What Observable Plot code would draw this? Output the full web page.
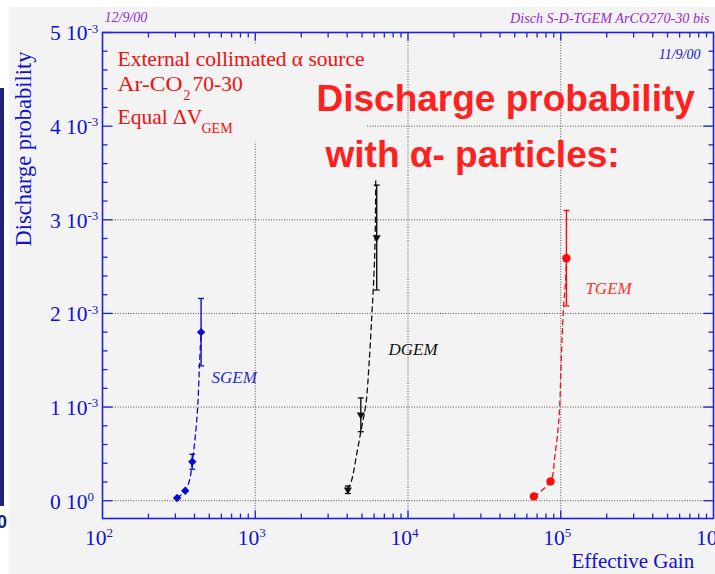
<!DOCTYPE html>
<html><head><meta charset="utf-8">
<script src="https://cdn.jsdelivr.net/npm/d3@7"></script>
<script src="https://cdn.jsdelivr.net/npm/@observablehq/plot@0.6"></script>
<style>
html,body{margin:0;padding:0;background:#fff;width:715px;height:574px;overflow:hidden;}
#bg{position:absolute;left:9px;top:7px;width:706px;height:567px;background:#f3f3f3;}
#bar{position:absolute;left:0;top:88px;width:4px;height:418px;background:#23237f;}
#zero{position:absolute;left:-3px;top:512px;font:bold 18px "Liberation Sans";color:#1b1b70;}
#chart{position:absolute;left:0;top:0;}
</style></head><body>
<div id="bg"></div><div id="bar"></div><div id="zero">0</div>
<div id="chart"></div>
<script>
// ---- data ----
const sgemGain = [308, 348, 387, 442];
const sgemProb = [0.029e-3, 0.107e-3, 0.416e-3, 1.80e-3];
const sgemErr  = [0, 0, 0.08e-3, 0.36e-3];
const dgemGain = [4040, 4910, 6240];
const dgemProb = [0.117e-3, 0.917e-3, 2.81e-3];
const dgemErr  = [0.04e-3, 0.18e-3, 0.56e-3];
const tgemGain = [66700, 85700, 108900];
const tgemProb = [0.046e-3, 0.206e-3, 2.59e-3];
const tgemErr  = [0, 0, 0.51e-3];
// dashed trend curves as traced on the picture
const sgemCurveGain = [308, 348, 372, 387, 405, 420, 431, 442];
const sgemCurveProb = [0.029e-3, 0.107e-3, 0.224e-3, 0.416e-3, 0.686e-3, 1.005e-3, 1.432e-3, 1.80e-3];
const dgemCurveGain = [4040, 4285, 4627, 4982, 5310, 5580, 5790, 5935, 6085, 6150];
const dgemCurveProb = [0.117e-3, 0.224e-3, 0.509e-3, 0.792e-3, 1.042e-3, 1.503e-3, 1.965e-3, 2.285e-3, 2.747e-3, 3.44e-3];
const tgemCurveGain = [66700, 85700, 91400, 95900, 98400, 99900, 101900, 104600, 107300, 108900];
const tgemCurveProb = [0.046e-3, 0.206e-3, 0.472e-3, 0.757e-3, 1.005e-3, 1.325e-3, 1.716e-3, 2.09e-3, 2.32e-3, 2.59e-3];
// series labels
const seriesNames = ["SGEM", "DGEM", "TGEM"];
const labelGain = [517, 7450, 145000];
const labelProb = [1.256e-3, 1.555e-3, 2.206e-3];
// ticks
const yTicks = [0, 1e-3, 2e-3, 3e-3, 4e-3, 5e-3];
const yTickMant = ["0 10", "1 10", "2 10", "3 10", "4 10", "5 10"];
const yTickExp = ["0", "-3", "-3", "-3", "-3", "-3"];
const xTicks = [1e2, 1e3, 1e4, 1e5, 1e6];
const xTickMant = ["10", "10", "10", "10", "10"];
const xTickExp = ["2", "3", "4", "5", "6"];
const xGrid = [1e3, 1e4, 1e5];
const yGrid = [0, 1e-3, 2e-3, 3e-3, 4e-3];

// ---- derived tables ----
const rows = (g, p, e) => g.map((x, i) => ({x, y: p[i], e: e[i]}));
const curve = (g, p) => g.map((x, i) => ({x, y: p[i]}));
const S = rows(sgemGain, sgemProb, sgemErr), D = rows(dgemGain, dgemProb, dgemErr), T = rows(tgemGain, tgemProb, tgemErr);
const labels = seriesNames.map((t, i) => ({t, x: labelGain[i], y: labelProb[i]}));
const yMinor = d3.range(1, 25).filter(i => i % 5 !== 0).map(i => i * 0.2e-3);
const xMinor = [];
[1e2, 1e3, 1e4, 1e5].forEach(d => { for (let k = 2; k <= 9; k++) xMinor.push(k * d); });
const yMin = -0.19e-3, yMax = 5e-3, xMin = 1e2, xMax = 1e6;

const BLUE = "#1212cc", FRAME = "#2020dd", BLK = "#111";
const seg = (dx, dy) => ({draw(ctx) { ctx.moveTo(0, 0); ctx.lineTo(dx, dy); }});
const cap = {draw(ctx) { ctx.moveTo(-3, 0); ctx.lineTo(3, 0); }};
const serif = "Liberation Serif, Times New Roman, serif";
const sans = "Liberation Sans, Arial, sans-serif";

function series(data, cdata, color, symbol, r, rotate) {
  const withErr = data.filter(d => d.e > 0);
  return [
    Plot.line(cdata, {x: "x", y: "y", stroke: color, strokeWidth: 1.3, strokeDasharray: "5,4", curve: "catmull-rom"}),
    Plot.ruleX(withErr, {x: "x", y1: d => d.y - d.e, y2: d => d.y + d.e, stroke: color, strokeWidth: 1.4}),
    Plot.dot(withErr, {x: "x", y: d => d.y - d.e, symbol: cap, r: 1, stroke: color, fill: "none", strokeWidth: 1.3}),
    Plot.dot(withErr, {x: "x", y: d => d.y + d.e, symbol: cap, r: 1, stroke: color, fill: "none", strokeWidth: 1.3}),
    Plot.dot(data, {x: "x", y: "y", symbol, r, fill: color, stroke: "none", rotate})
  ];
}
const note = (t, o) => Plot.text([t], {frameAnchor: "top-left", textAnchor: "start", lineAnchor: "bottom", fontFamily: serif, fill: "#f01010", ...o});

const plot = Plot.plot({
  width: 715, height: 574,
  marginLeft: 102, marginRight: 2, marginTop: 32, marginBottom: 56,
  style: {background: "transparent", overflow: "visible"},
  x: {type: "log", domain: [xMin, xMax], axis: null},
  y: {type: "linear", domain: [yMin, yMax], axis: null},
  marks: [
    Plot.ruleX(xGrid, {stroke: "#555", strokeDasharray: "1,1.6", strokeWidth: 1}),
    Plot.ruleY(yGrid, {stroke: "#555", strokeDasharray: "1,1.6", strokeWidth: 1}),
    Plot.rect([{x1: xMin, x2: 5350, y1: 3.828e-3, y2: 4.863e-3}], {x1: "x1", x2: "x2", y1: "y1", y2: "y2", fill: "#f3f3f3"}),
    Plot.frame({stroke: FRAME, strokeWidth: 1.6}),
    // inward ticks
    Plot.dot(yMinor, {x: xMin, y: d => d, symbol: seg(5, 0), r: 1, stroke: FRAME, fill: "none", strokeWidth: 1.3}),
    Plot.dot(yTicks, {x: xMin, y: d => d, symbol: seg(10, 0), r: 1, stroke: FRAME, fill: "none", strokeWidth: 1.3}),
    Plot.dot(yMinor, {x: xMax, y: d => d, symbol: seg(-5, 0), r: 1, stroke: FRAME, fill: "none", strokeWidth: 1.3}),
    Plot.dot(yTicks, {x: xMax, y: d => d, symbol: seg(-10, 0), r: 1, stroke: FRAME, fill: "none", strokeWidth: 1.3}),
    Plot.dot(xMinor, {x: d => d, y: yMin, symbol: seg(0, -5), r: 1, stroke: FRAME, fill: "none", strokeWidth: 1.3}),
    Plot.dot(xGrid, {x: d => d, y: yMin, symbol: seg(0, -8), r: 1, stroke: FRAME, fill: "none", strokeWidth: 1.3}),
    Plot.dot(xMinor, {x: d => d, y: yMax, symbol: seg(0, 5), r: 1, stroke: FRAME, fill: "none", strokeWidth: 1.3}),
    Plot.dot(xGrid, {x: d => d, y: yMax, symbol: seg(0, 8), r: 1, stroke: FRAME, fill: "none", strokeWidth: 1.3}),
    // tick labels
    Plot.text(yTicks, {x: xMin, y: d => d, text: (d, i) => yTickMant[i], textAnchor: "end", dx: -15, dy: 1, fontSize: 21.5, fontFamily: serif, fill: BLUE}),
    Plot.text(yTicks, {x: xMin, y: d => d, text: (d, i) => yTickExp[i], textAnchor: "start", dx: -15, dy: -4, fontSize: 13, fontFamily: serif, fill: BLUE}),
    Plot.text(xTicks, {x: d => d, y: yMin, text: (d, i) => xTickMant[i], textAnchor: "end", dx: 4, dy: 20, fontSize: 21.5, fontFamily: serif, fill: BLUE}),
    Plot.text(xTicks, {x: d => d, y: yMin, text: (d, i) => xTickExp[i], textAnchor: "start", dx: 4, dy: 14, fontSize: 13, fontFamily: serif, fill: BLUE}),
    // axis titles
    Plot.text(["Effective Gain"], {frameAnchor: "bottom-right", textAnchor: "start", lineAnchor: "bottom", dx: -142, dy: 49, fontSize: 21, fontFamily: serif, fill: BLUE}),
    Plot.text(["Discharge probability"], {frameAnchor: "left", rotate: -90, textAnchor: "middle", lineAnchor: "bottom", dx: -72, dy: -126.5, fontSize: 22.5, fontFamily: serif, fill: BLUE}),
    // series
    ...series(S, curve(sgemCurveGain, sgemCurveProb), "#0a0ad0", "diamond2", 3.8, 0),
    ...series(D, curve(dgemCurveGain, dgemCurveProb), BLK, "triangle", 3.0, 180),
    ...series(T, curve(tgemCurveGain, tgemCurveProb), "#ff0a0a", "circle", 4.2, 0),
    Plot.text(labels, {x: "x", y: "y", text: "t", textAnchor: "start", lineAnchor: "bottom", fontSize: 17, fontStyle: "italic", fontFamily: serif,
      fill: (d, i) => ["#2a2ad8", "#111", "#ff3030"][i]}),
    // annotation block
    note("External collimated \u03b1 source", {dx: 15, dy: 33, fontSize: 21.5}),
    note("Ar-CO", {dx: 15, dy: 58, fontSize: 21.5}),
    note("2", {dx: 81, dy: 67.5, fontSize: 14}),
    note("70-30", {dx: 90, dy: 58, fontSize: 21.5}),
    note("Equal \u0394V", {dx: 15, dy: 91, fontSize: 21.5}),
    note("GEM", {dx: 99, dy: 100.5, fontSize: 14}),
    note("Discharge probability", {dx: 214, dy: 78.7, fontSize: 37, fontWeight: "bold", fontFamily: sans, fill: "#ff2020"}),
    note("with \u03b1- particles:", {dx: 223, dy: 134, fontSize: 37, fontWeight: "bold", fontFamily: sans, fill: "#ff2020"}),
    // stamps
    Plot.text(["12/9/00"], {frameAnchor: "top-left", textAnchor: "start", lineAnchor: "bottom", dx: 2, dy: -10.5, fontSize: 14, fontStyle: "italic", fontFamily: serif, fill: "#8a2be2"}),
    Plot.text(["Disch S-D-TGEM ArCO270-30 bis"], {frameAnchor: "top-right", textAnchor: "end", lineAnchor: "bottom", dx: -4, dy: -10, fontSize: 14.2, fontStyle: "italic", fontFamily: serif, fill: "#9a2ccf"}),
    Plot.text(["11/9/00"], {frameAnchor: "top-right", textAnchor: "end", lineAnchor: "bottom", dx: -13, dy: 26, fontSize: 14, fontStyle: "italic", fontFamily: serif, fill: "#1a1acc"})
  ]
});
// stretch a couple of strings to the widths measured on the picture
const widths = {"Ar-CO": 65, "Discharge probability": null};
d3.select(plot).selectAll("text").each(function () {
  if (this.textContent === "Ar-CO") d3.select(this).attr("textLength", 65).attr("lengthAdjust", "spacingAndGlyphs");
});
document.getElementById("chart").appendChild(plot);
</script>
</body></html>
